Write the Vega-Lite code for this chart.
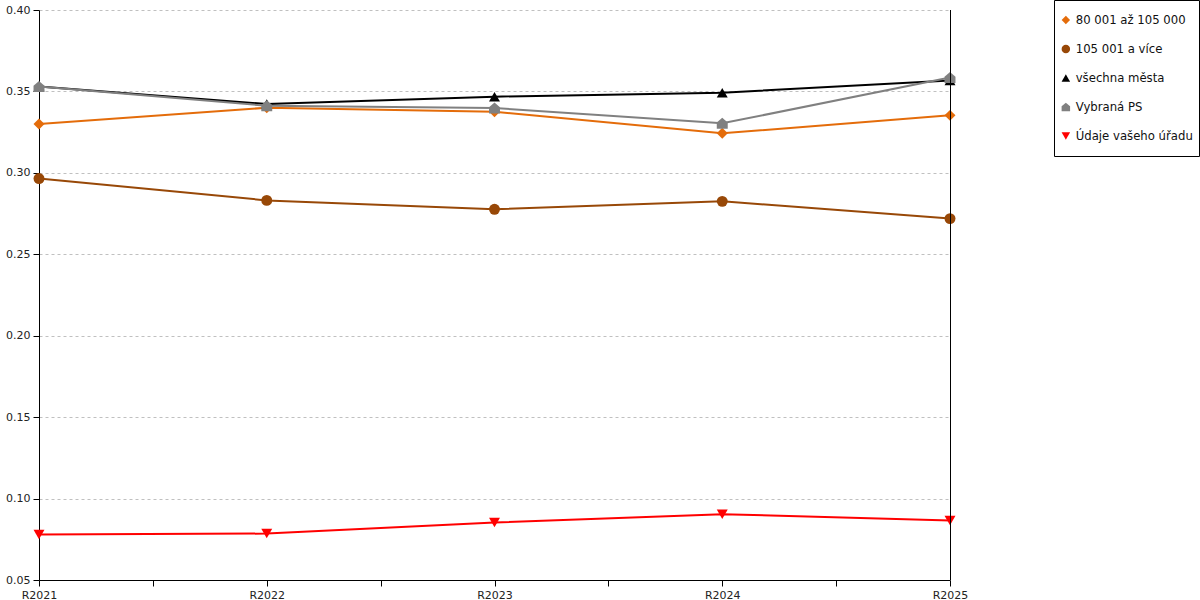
{
  "$schema": "https://vega.github.io/schema/vega-lite/v6.json",
  "width": 911,
  "height": 570,
  "autosize": {"type": "none"},
  "padding": {"left": 39, "top": 10, "right": 250, "bottom": 20},
  "background": "white",
  "data": {
    "values": [
      {"skupina": "80 001 až 105 000", "rok": 2021, "hodnota": 0.330},
      {"skupina": "80 001 až 105 000", "rok": 2022, "hodnota": 0.340},
      {"skupina": "80 001 až 105 000", "rok": 2023, "hodnota": 0.3375},
      {"skupina": "80 001 až 105 000", "rok": 2024, "hodnota": 0.3243},
      {"skupina": "80 001 až 105 000", "rok": 2025, "hodnota": 0.3353},
      {"skupina": "105 001 a více", "rok": 2021, "hodnota": 0.2965},
      {"skupina": "105 001 a více", "rok": 2022, "hodnota": 0.2831},
      {"skupina": "105 001 a více", "rok": 2023, "hodnota": 0.2776},
      {"skupina": "105 001 a více", "rok": 2024, "hodnota": 0.2825},
      {"skupina": "105 001 a více", "rok": 2025, "hodnota": 0.2719},
      {"skupina": "všechna města", "rok": 2021, "hodnota": 0.353},
      {"skupina": "všechna města", "rok": 2022, "hodnota": 0.3423},
      {"skupina": "všechna města", "rok": 2023, "hodnota": 0.3468},
      {"skupina": "všechna města", "rok": 2024, "hodnota": 0.3492},
      {"skupina": "všechna města", "rok": 2025, "hodnota": 0.3567},
      {"skupina": "Vybraná PS", "rok": 2021, "hodnota": 0.353},
      {"skupina": "Vybraná PS", "rok": 2022, "hodnota": 0.3412},
      {"skupina": "Vybraná PS", "rok": 2023, "hodnota": 0.3398},
      {"skupina": "Vybraná PS", "rok": 2024, "hodnota": 0.3304},
      {"skupina": "Vybraná PS", "rok": 2025, "hodnota": 0.3585},
      {"skupina": "Údaje vašeho úřadu", "rok": 2021, "hodnota": 0.078},
      {"skupina": "Údaje vašeho úřadu", "rok": 2022, "hodnota": 0.0785},
      {"skupina": "Údaje vašeho úřadu", "rok": 2023, "hodnota": 0.0853},
      {"skupina": "Údaje vašeho úřadu", "rok": 2024, "hodnota": 0.0904},
      {"skupina": "Údaje vašeho úřadu", "rok": 2025, "hodnota": 0.0865}
    ]
  },
  "encoding": {
    "x": {
      "field": "rok",
      "type": "quantitative",
      "scale": {"domain": [2021, 2025], "nice": false, "zero": false},
      "axis": {
        "title": null,
        "grid": false,
        "values": [2021, 2021.5, 2022, 2022.5, 2023, 2023.5, 2024, 2024.5, 2025],
        "labelExpr": "datum.value % 1 == 0 ? 'R' + datum.value : ''",
        "labelFlush": false,
        "labelOverlap": false
      }
    },
    "y": {
      "field": "hodnota",
      "type": "quantitative",
      "scale": {"domain": [0.05, 0.40], "nice": false, "zero": false},
      "axis": {
        "title": null,
        "values": [0.05, 0.10, 0.15, 0.20, 0.25, 0.30, 0.35, 0.40],
        "format": ".2f",
        "grid": true,
        "gridColor": "#c0c0c0",
        "gridDash": [3, 3],
        "gridWidth": 1
      }
    },
    "color": {
      "field": "skupina",
      "type": "nominal",
      "sort": null,
      "title": null,
      "scale": {
        "domain": ["80 001 až 105 000", "105 001 a více", "všechna města", "Vybraná PS", "Údaje vašeho úřadu"],
        "range": ["#E46C0A", "#984807", "#000000", "#808080", "#FF0000"]
      }
    }
  },
  "layer": [
    {
      "mark": {"type": "line", "strokeWidth": 2},
      "encoding": {"detail": {"field": "skupina"}}
    },
    {
      "mark": {"type": "point", "filled": true, "opacity": 1, "size": 120},
      "encoding": {
        "shape": {
          "field": "skupina",
          "type": "nominal",
          "sort": null,
          "title": null,
          "scale": {
            "domain": ["80 001 až 105 000", "105 001 a více", "všechna města", "Vybraná PS", "Údaje vašeho úřadu"],
            "range": ["diamond", "circle", "triangle-up", "M-1,1L-1,-0.15L0,-1L1,-0.15L1,1Z", "triangle-down"]
          }
        }
      }
    },
    {
      "mark": {"type": "rule", "color": "black", "strokeWidth": 1, "xOffset": 0.5},
      "encoding": {"x": {"datum": 2025}, "y": null, "color": null}
    }
  ],
  "config": {
    "view": {"stroke": null},
    "font": "DejaVu Sans",
    "axis": {
      "domainColor": "black",
      "tickColor": "black",
      "tickSize": 6,
      "labelColor": "#222222",
      "labelFont": "DejaVu Sans",
      "labelFontSize": 11,
      "labelPadding": 3
    },
    "legend": {
      "orient": "none",
      "legendX": 1015,
      "legendY": -10,
      "strokeColor": "black",
      "fillColor": "white",
      "padding": 6,
      "rowPadding": 1,
      "clipHeight": 28,
      "symbolSize": 72,
      "symbolStrokeWidth": 0,
      "labelFont": "DejaVu Sans",
      "labelFontSize": 11.7,
      "labelColor": "#111111",
      "labelOffset": 4,
      "labelLimit": 300
    }
  }
}
